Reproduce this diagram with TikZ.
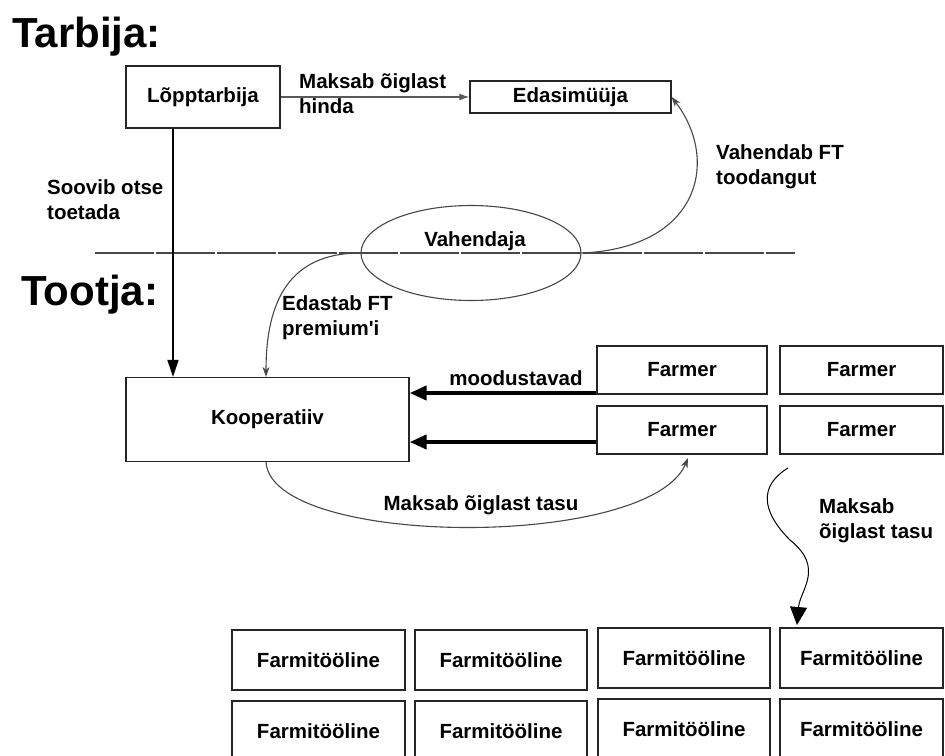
\documentclass[tikz,border=0pt]{standalone}
\usepackage{fontspec}
\newfontfamily\lsans{Liberation Sans}
\usetikzlibrary{arrows.meta,shapes.geometric}
\begin{document}
\begin{tikzpicture}[x=1pt,y=-1pt,
  lbl/.style={font=\lsans\fontsize{20.5}{25}\selectfont\bfseries, inner sep=0pt, align=left},
  box/.style={draw=black!85, line width=1.3pt, font=\lsans\fontsize{20.5}{25}\selectfont\bfseries, inner sep=0pt, align=center},
  ttl/.style={font=\lsans\fontsize{42}{46}\selectfont\bfseries, inner sep=0pt},
  curve/.style={draw=black!72, line width=1.1pt},
  thintip/.style={-{Stealth[length=10pt,width=7pt]}},
]
\useasboundingbox (0,0) rectangle (945,755);
\clip (0,0) rectangle (945,755);

% titles
\node[ttl, anchor=base west] (tarb) at (12,47) {Tarbija:};
\node[ttl, anchor=base west] (toot) at (21,305) {Tootja:};

% boxes
\node[box, minimum width=154, minimum height=62] (lt) at (203,97) {Lõpptarbija};
\node[box, minimum width=201, minimum height=32] (ed) at (570.5,97) {Edasimüüja};
\node[box, minimum width=283, minimum height=84] (koop) at (267.5,419.5) {Kooperatiiv};

\node[box, minimum width=170, minimum height=48] (f11) at (682,370) {Farmer};
\node[box, minimum width=163, minimum height=48] (f12) at (861.5,370) {Farmer};
\node[box, minimum width=170, minimum height=48] (f21) at (682,430) {Farmer};
\node[box, minimum width=163, minimum height=48] (f22) at (861.5,430) {Farmer};

\node[box, minimum width=173, minimum height=60] (w11) at (318.5,660) {Farmitööline};
\node[box, minimum width=172, minimum height=60] (w12) at (501,660) {Farmitööline};
\node[box, minimum width=172, minimum height=60] (w13) at (684,658) {Farmitööline};
\node[box, minimum width=163, minimum height=60] (w14) at (861.5,658) {Farmitööline};
\node[box, minimum width=173, minimum height=60] (w21) at (318.5,731) {Farmitööline};
\node[box, minimum width=172, minimum height=60] (w22) at (501,731) {Farmitööline};
\node[box, minimum width=172, minimum height=60] (w23) at (684,729) {Farmitööline};
\node[box, minimum width=163, minimum height=60] (w24) at (861.5,729) {Farmitööline};

% divider line and ellipse
\coordinate (hl) at (95,253);
\coordinate (hr) at (795,253);
\draw[black!72, line width=1.2pt, dash pattern=on 59pt off 2pt] (hl) -- (hr);
\node[draw=black!72, line width=1.1pt, ellipse, minimum width=220, minimum height=95, inner sep=0pt] (vah) at (471,253) {};
\node[lbl] (vahl) at (475,241) {Vahendaja};

% labels
\node[lbl, anchor=west] (l1) at (299,93.5) {Maksab õiglast\\hinda};
\node[lbl, anchor=west] (l2) at (47,199.5) {Soovib otse\\toetada};
\node[lbl, anchor=west] (l3) at (716,166.5) {Vahendab FT\\toodangut};
\node[lbl, anchor=west] (l4) at (282,317.5) {Edastab FT\\premium'i};
\node[lbl] (l5) at (516,378) {moodustavad};
\node[lbl] (l6) at (481,505) {Maksab õiglast tasu};
\node[lbl, anchor=west] (l7) at (819,521) {Maksab\\õiglast tasu};

% connectors
\draw[draw=black!65, line width=1.2pt, -{Latex[length=10pt,width=7pt]}] (lt.east) -- (ed.west);

\coordinate (vx) at (173,0);
\draw[line width=1.8pt, -{Triangle[length=17pt,width=11pt]}] (lt.south -| vx) -- (koop.north -| vx);

\coordinate (ex) at (266,0);
\draw[curve, thintip] (vah.west) .. controls (290,253) and (266,300) .. (koop.north -| ex);
\draw[curve, thintip] (vah.east) .. controls (700,248) and (720,160) .. (ed.east);

\coordinate (a1) at (0,393);
\coordinate (a2) at (0,442);
\draw[line width=4pt, -{Triangle[length=17pt,width=14pt]}] (f11.west |- a1) -- (koop.east |- a1);
\draw[line width=4pt, -{Triangle[length=17pt,width=14pt]}] (f21.west |- a2) -- (koop.east |- a2);

\coordinate (t1) at (688,458);
\draw[curve, thintip] (koop.south -| ex) .. controls (272,548) and (650,550) .. (t1);

\coordinate (w0) at (788,468);
\coordinate (w1) at (797,625);
\draw[black, line width=1pt, -{Triangle[length=18pt,width=17pt]}] (w0) .. controls (760,485) and (760,510) .. (790,540) .. controls (825,568) and (800,590) .. (w1);
\end{tikzpicture}
\end{document}
